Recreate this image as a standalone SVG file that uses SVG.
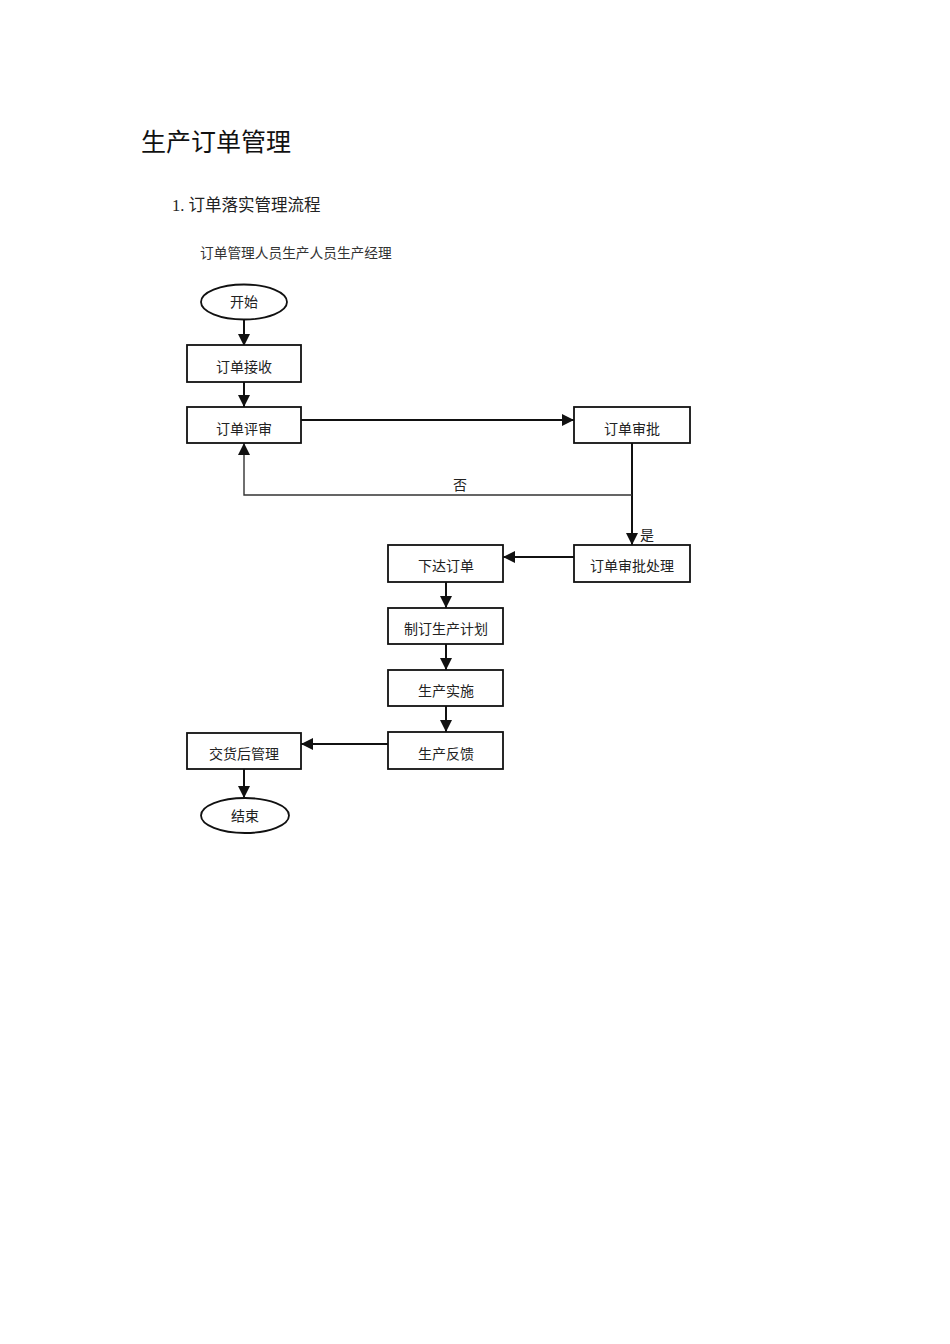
<svg xmlns="http://www.w3.org/2000/svg" width="950" height="1344" viewBox="0 0 950 1344">
<style>
.box{fill:#fff;stroke:#111;stroke-width:1.8}
.t{font-family:"Liberation Serif","Noto Sans CJK SC",serif;font-size:14px;fill:#222;text-anchor:middle}
.c{fill:none;stroke:#111;stroke-width:2}
.c2{fill:none;stroke:#333;stroke-width:1.4}
</style>
<defs>
<marker id="ah" markerUnits="userSpaceOnUse" markerWidth="12" markerHeight="12" refX="10" refY="5" orient="auto" viewBox="0 0 10 10">
<path d="M0,0 L10,5 L0,10 z" fill="#111"/>
</marker>
</defs>
<rect width="950" height="1344" fill="#fff"/>
<text x="141" y="151" font-family="'Noto Sans CJK SC',sans-serif" font-size="25" fill="#111">生产订单管理</text>
<text x="172" y="211" font-family="'Liberation Serif','Noto Sans CJK SC',serif" font-size="16.5" fill="#222">1. 订单落实管理流程</text>
<text x="200" y="258" font-family="'Liberation Serif','Noto Sans CJK SC',serif" font-size="13.7" fill="#333">订单管理人员生产人员生产经理</text>

<g id="connectors">
<path class="c" d="M244,320 V346" marker-end="url(#ah)"/>
<path class="c" d="M244,382 V407" marker-end="url(#ah)"/>
<path class="c" d="M301,420 H574" marker-end="url(#ah)"/>
<path class="c" d="M632,443 V545" marker-end="url(#ah)"/>
<path class="c2" d="M632,495 H244 V443" marker-end="url(#ah)"/>
<path class="c" d="M574,557 H503" marker-end="url(#ah)"/>
<path class="c" d="M446,582 V608" marker-end="url(#ah)"/>
<path class="c" d="M446,644 V670" marker-end="url(#ah)"/>
<path class="c" d="M446,706 V732" marker-end="url(#ah)"/>
<path class="c" d="M388,744 H301" marker-end="url(#ah)"/>
<path class="c" d="M244,769 V798" marker-end="url(#ah)"/>
<text x="460" y="490" class="t">否</text>
<text x="647" y="540" class="t">是</text>
</g>

<g id="start"><ellipse cx="244" cy="302" rx="43" ry="17.5" class="box"/><text x="244" y="307" class="t">开始</text></g>
<g id="receive"><rect x="187" y="345" width="114" height="37" class="box"/><text x="244" y="372" class="t">订单接收</text></g>
<g id="review"><rect x="187" y="407" width="114" height="36" class="box"/><text x="244" y="434" class="t">订单评审</text></g>
<g id="approve"><rect x="574" y="407" width="116" height="36" class="box"/><text x="632" y="434" class="t">订单审批</text></g>
<g id="approve-proc"><rect x="574" y="545" width="116" height="37" class="box"/><text x="632" y="571" class="t">订单审批处理</text></g>
<g id="issue"><rect x="388" y="545" width="115" height="37" class="box"/><text x="446" y="571" class="t">下达订单</text></g>
<g id="plan"><rect x="388" y="608" width="115" height="36" class="box"/><text x="446" y="634" class="t">制订生产计划</text></g>
<g id="exec"><rect x="388" y="670" width="115" height="36" class="box"/><text x="446" y="696" class="t">生产实施</text></g>
<g id="feedback"><rect x="388" y="732" width="115" height="37" class="box"/><text x="446" y="759" class="t">生产反馈</text></g>
<g id="after"><rect x="187" y="733" width="114" height="36" class="box"/><text x="244" y="759" class="t">交货后管理</text></g>
<g id="end"><ellipse cx="245" cy="815.5" rx="44" ry="17.5" class="box"/><text x="245" y="821" class="t">结束</text></g>
</svg>
